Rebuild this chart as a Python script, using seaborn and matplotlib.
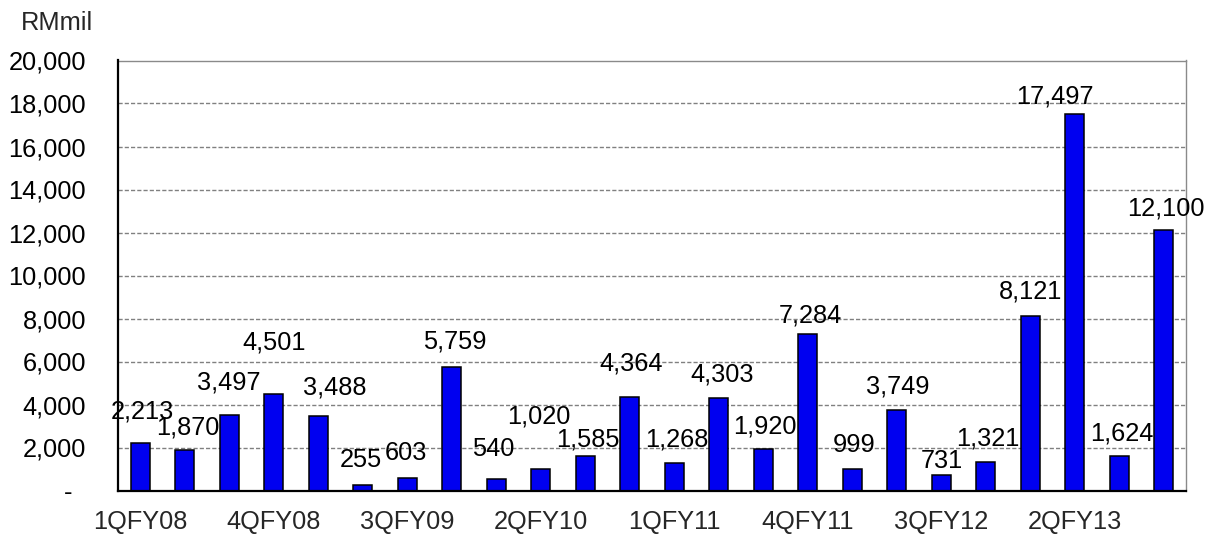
import matplotlib
matplotlib.use("Agg")
import matplotlib.pyplot as plt
from matplotlib.ticker import FixedLocator, FuncFormatter
import seaborn as sns
import pandas as pd

# ---- data ----
quarters = ["1QFY08", "2QFY08", "3QFY08", "4QFY08",
            "1QFY09", "2QFY09", "3QFY09", "4QFY09",
            "1QFY10", "2QFY10", "3QFY10", "4QFY10",
            "1QFY11", "2QFY11", "3QFY11", "4QFY11",
            "1QFY12", "2QFY12", "3QFY12", "4QFY12",
            "1QFY13", "2QFY13", "3QFY13", "4QFY13"]
values = [2213, 1870, 3497, 4501, 3488, 255, 603, 5759,
          540, 1020, 1585, 4364, 1268, 4303, 1920, 7284,
          999, 3749, 731, 1321, 8121, 17497, 1624, 12100]
shown_labels = ["1QFY08", "4QFY08", "3QFY09", "2QFY10",
                "1QFY11", "4QFY11", "3QFY12", "2QFY13"]
y_ticks = [0, 2000, 4000, 6000, 8000, 10000, 12000, 14000, 16000, 18000, 20000]
unit_label = "RMmil"

# label placement offsets (pixels) relative to bar top centre
label_dx = [2, 3, 0, 0, 16, -2, -1, 3, -3, -2, 3, 1,
            3, 3, 2, 3, 2, 1, 1, 2, 0, -20, 3, 2]
label_dy = [31, 23, 33, 51, 28, 25, 25, 25, 30, 52, 17, 33,
            24, 23, 23, 18, 24, 23, 14, 24, 24, 18, 22, 22]

df = pd.DataFrame({"quarter": quarters, "value": values})

sns.set_style("white")
plt.rcParams["font.family"] = ["Liberation Sans", "DejaVu Sans"]
FS = 18.3

fig = plt.figure(figsize=(12.12, 5.38), dpi=100)
W, H = 1212, 538
ax = fig.add_axes([118 / W, 47.5 / H, (1186 - 118) / W, (490.5 - 60.5) / H])

sns.barplot(data=df, x="quarter", y="value", color="#0000F0", saturation=1,
            width=0.42, edgecolor="black", linewidth=1.1, ax=ax, zorder=3)

ax.set_xlim(-0.5, len(quarters) - 0.5)
ax.set_ylim(0, 20000)
ax.set_xlabel("")
ax.set_ylabel("")

# y axis
ax.set_yticks(y_ticks)
ax.yaxis.set_major_formatter(FuncFormatter(lambda v, p: "-  " if v == 0 else f"{int(v):,}"))
ax.tick_params(axis="y", direction="inout", length=7.2, width=1.3, pad=19.4,
               labelsize=FS, colors="black")

# x axis: labels every third quarter, tick marks between categories
pos = [quarters.index(q) for q in shown_labels]
ax.xaxis.set_major_locator(FixedLocator(pos))
ax.set_xticklabels(shown_labels)
ax.xaxis.set_minor_locator(FixedLocator([i - 0.5 for i in range(len(quarters) + 1)]))
ax.tick_params(axis="x", which="major", length=0, pad=14, labelsize=FS)
ax.tick_params(axis="x", which="minor", direction="out", length=3.6, width=1.3, color="black")

# grid
ax.set_axisbelow(True)
ax.yaxis.grid(True, color="#808080", linestyle=(0, (3, 1.5)), linewidth=1.0)
ax.xaxis.grid(False)

# spines
for s in ["left", "bottom"]:
    ax.spines[s].set_color("black")
    ax.spines[s].set_linewidth(1.6)
    ax.spines[s].set_zorder(5)
for s in ["top", "right"]:
    ax.spines[s].set_visible(True)
    ax.spines[s].set_color("#8a8a8a")
    ax.spines[s].set_linewidth(1.0)

# value labels
for i, v in enumerate(values):
    ax.annotate(f"{v:,}", xy=(i, v), xytext=(label_dx[i], label_dy[i]),
                textcoords="offset pixels", ha="center", va="center",
                fontsize=FS, color="black", zorder=6)

fig.text(21 / W, 1 - 23 / H, unit_label, ha="left", va="center", fontsize=FS)

fig.savefig("out.png", dpi=100)
